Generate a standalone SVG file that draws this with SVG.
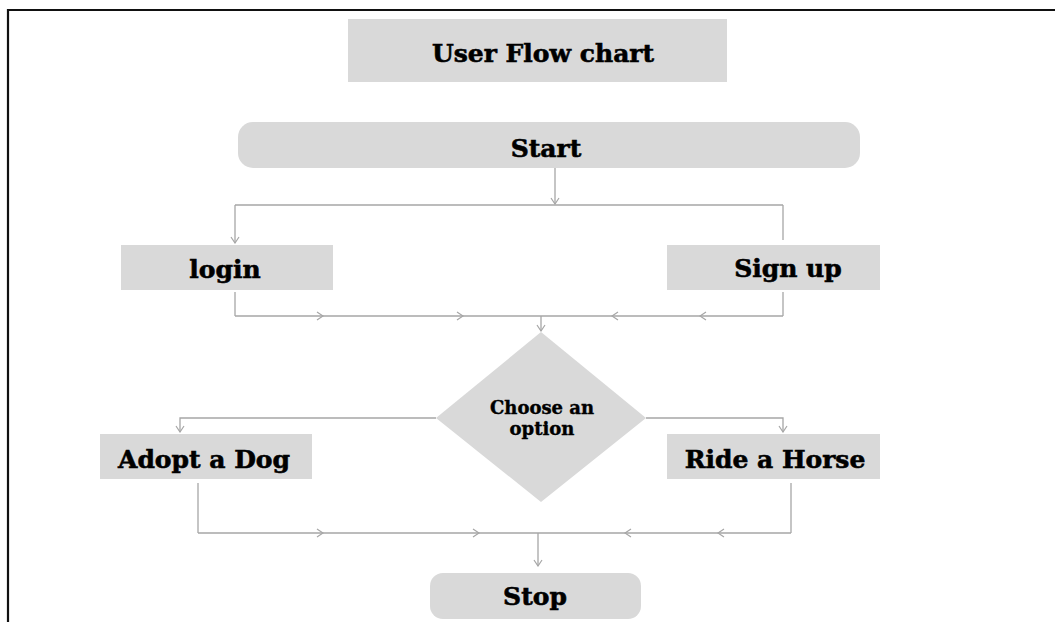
<svg xmlns="http://www.w3.org/2000/svg" width="1055" height="622" viewBox="0 0 1055 622">
  <style>
    .box { fill: #d9d9d9; }
    .lbl { font-family: "DejaVu Serif", "Liberation Serif", serif; font-weight: bold; fill: #000; stroke: #000; stroke-width: 0.6; text-anchor: middle; }
    .big { font-size: 25px; }
    .small { font-size: 18px; stroke-width: 0.4; }
    .conn path { fill: none; stroke: #a6a6a6; stroke-width: 1.3; }
  </style>
  <defs>
    <marker id="arr" markerUnits="userSpaceOnUse" markerWidth="8" markerHeight="10" viewBox="0 0 8 10" refX="7" refY="5" orient="auto">
      <path d="M1,1 L7,5 L1,9" fill="none" stroke="#a6a6a6" stroke-width="1.2"/>
    </marker>
  </defs>
  <rect width="1055" height="622" fill="#fff"/>
  <g id="frame">
    <path d="M8,622 L8,10 L1055,10" fill="none" stroke="#111" stroke-width="2.2"/>
  </g>

  <g id="title">
    <rect class="box" x="348" y="19" width="379" height="63"/>
    <text class="lbl big" x="543" y="62">User Flow chart</text>
  </g>
  <g id="start">
    <rect class="box" x="238" y="122" width="622" height="46" rx="15"/>
    <text class="lbl big" x="546" y="157">Start</text>
  </g>
  <g id="login">
    <rect class="box" x="121" y="245" width="212" height="45"/>
    <text class="lbl big" x="225" y="278">login</text>
  </g>
  <g id="signup">
    <rect class="box" x="667" y="245" width="213" height="45"/>
    <text class="lbl big" x="788" y="277">Sign up</text>
  </g>
  <g id="choose">
    <polygon class="box" points="541,332 646,418 541,502 436,418"/>
    <text class="lbl small" x="542" y="414">Choose an</text>
    <text class="lbl small" x="542" y="435">option</text>
  </g>
  <g id="adopt">
    <rect class="box" x="100" y="434" width="212" height="45"/>
    <text class="lbl big" x="204" y="468">Adopt a Dog</text>
  </g>
  <g id="ride">
    <rect class="box" x="667" y="434" width="213" height="45"/>
    <text class="lbl big" x="775" y="468">Ride a Horse</text>
  </g>
  <g id="stop">
    <rect class="box" x="430" y="573" width="211" height="46" rx="13"/>
    <text class="lbl big" x="535" y="605">Stop</text>
  </g>

  <g id="connectors" class="conn">
    <path d="M555,168 L555,204" marker-end="url(#arr)"/>
    <path d="M235,205 L783,205"/>
    <path d="M235,205 L235,243" marker-end="url(#arr)"/>
    <path d="M783,205 L783,240"/>
    <path d="M235,292 L235,316"/>
    <path d="M235,316 L323,316 L463,316 L541,316" marker-mid="url(#arr)"/>
    <path d="M783,292 L783,316"/>
    <path d="M783,316 L700,316 L612,316 L541,316" marker-mid="url(#arr)"/>
    <path d="M541,316 L541,331" marker-end="url(#arr)"/>
    <path d="M436,418 L180,418 L180,432" marker-end="url(#arr)"/>
    <path d="M646,418 L783,418 L783,432" marker-end="url(#arr)"/>
    <path d="M198,483 L198,533"/>
    <path d="M198,533 L323,533 L479,533 L538,533" marker-mid="url(#arr)"/>
    <path d="M791,483 L791,533"/>
    <path d="M791,533 L718,533 L625,533 L538,533" marker-mid="url(#arr)"/>
    <path d="M538,533 L538,566" marker-end="url(#arr)"/>
  </g>
</svg>
